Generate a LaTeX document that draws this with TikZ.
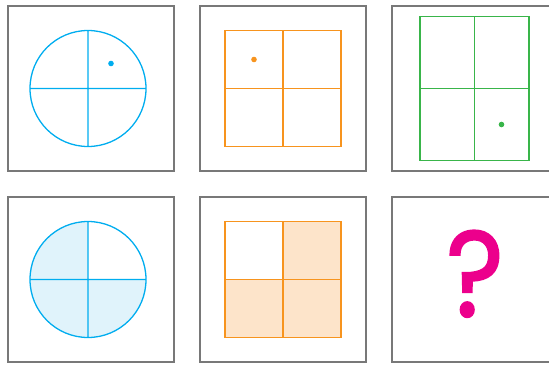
\documentclass[tikz,border=0pt]{standalone}
\usepackage{fontspec}
\newfontfamily\qfont{Poppins}[FakeBold=1.6]
\usetikzlibrary{positioning, calc}
\definecolor{framegray}{RGB}{120,120,120}
\definecolor{cyanline}{RGB}{0,173,239}
\definecolor{cyanfill}{RGB}{224,243,251}
\definecolor{orangeline}{RGB}{247,148,30}
\definecolor{orangefill}{RGB}{253,228,202}
\definecolor{greenline}{RGB}{57,181,74}
\definecolor{qmagenta}{RGB}{236,0,140}

\begin{document}
\begin{tikzpicture}[x=1pt, y=1pt, node distance=26pt,
  p/.style={draw=framegray, line width=1.1pt, minimum width=166pt,
            minimum height=165pt, inner sep=0pt, outer sep=0pt},
  ln/.style={line width=1.3pt}]
\clip (0,0) rectangle (549,365);
% frames
\node[p] (p1) at (91,276.5) {};
\node[p, right=of p1] (p2) {};
\node[p, right=of p2] (p3) {};
\node[p, below=of p1] (p4) {};
\node[p, right=of p4] (p5) {};
\node[p, right=of p5] (p6) {};
% circle with dot
\coordinate (c1) at ($(p1.center)+(-3,0)$);
\draw[ln, cyanline] (c1) circle[radius=58pt]
  ($(c1)+(-58,0)$) -- ($(c1)+(58,0)$)
  ($(c1)+(0,-58)$) -- ($(c1)+(0,58)$);
\fill[cyanline] ($(c1)+(23,25)$) circle[radius=2.8pt];
% square with dot
\coordinate (c2) at (p2.center);
\draw[ln, orangeline] ($(c2)+(-58,-58)$) rectangle ($(c2)+(58,58)$)
  ($(c2)+(-58,0)$) -- ($(c2)+(58,0)$)
  ($(c2)+(0,-58)$) -- ($(c2)+(0,58)$);
\fill[orangeline] ($(c2)+(-29,29)$) circle[radius=2.8pt];
% tall rectangle with dot
\coordinate (c3) at ($(p3.center)+(-0.5,0)$);
\draw[ln, greenline] ($(c3)+(-54.5,-72)$) rectangle ($(c3)+(54.5,72)$)
  ($(c3)+(-54.5,0)$) -- ($(c3)+(54.5,0)$)
  ($(c3)+(0,-72)$) -- ($(c3)+(0,72)$);
\fill[greenline] ($(c3)+(27,-36)$) circle[radius=2.8pt];
% shaded circle
\coordinate (c4) at ($(p4.center)+(-3,0)$);
\fill[cyanfill] (c4) -- ($(c4)+(0,58)$) arc[start angle=90, end angle=360, radius=58pt] -- cycle;
\draw[ln, cyanline] (c4) circle[radius=58pt]
  ($(c4)+(-58,0)$) -- ($(c4)+(58,0)$)
  ($(c4)+(0,-58)$) -- ($(c4)+(0,58)$);
% shaded square
\coordinate (c5) at (p5.center);
\fill[orangefill] ($(c5)+(0,-58)$) rectangle ($(c5)+(58,58)$)
  ($(c5)+(-58,-58)$) rectangle (c5);
\draw[ln, orangeline] ($(c5)+(-58,-58)$) rectangle ($(c5)+(58,58)$)
  ($(c5)+(-58,0)$) -- ($(c5)+(58,0)$)
  ($(c5)+(0,-58)$) -- ($(c5)+(0,58)$);
% question mark
\node[text=qmagenta, font=\qfont\fontsize{122}{122}\selectfont, inner sep=0pt,
      xscale=0.9, transform shape]
  (q) at ($(p6.center)+(0,5.7)$) {?};
\end{tikzpicture}
\end{document}
